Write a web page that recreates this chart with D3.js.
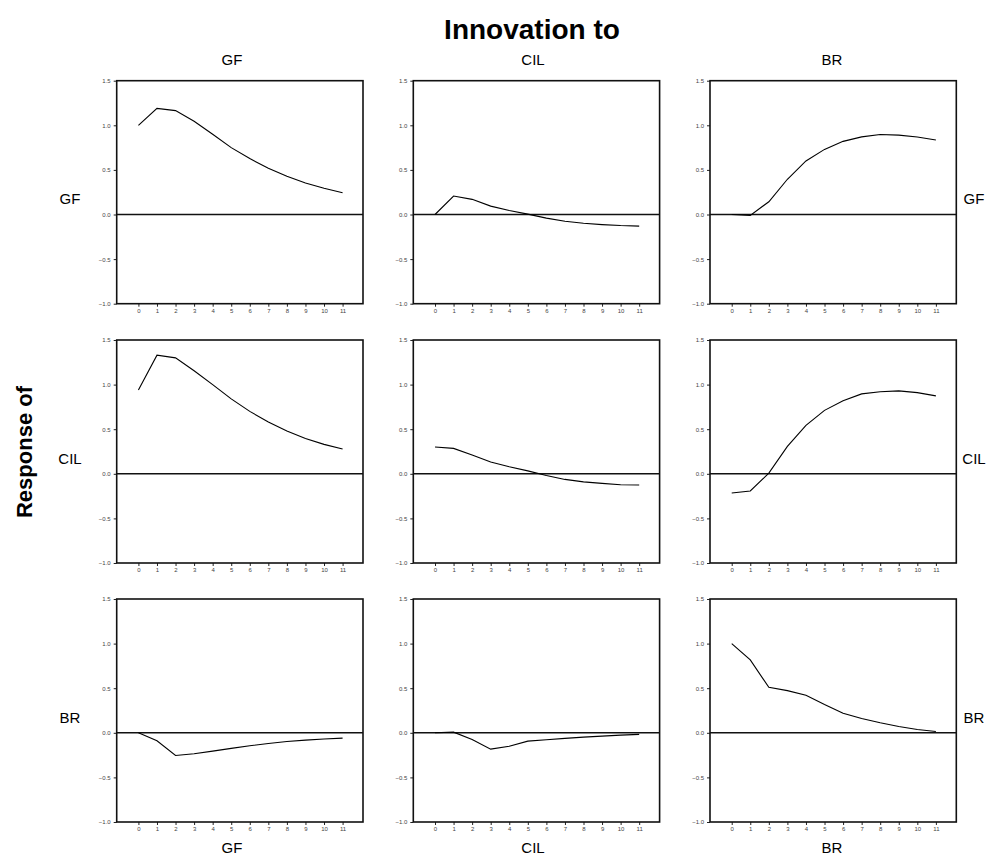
<!DOCTYPE html>
<html>
<head>
<meta charset="utf-8">
<script src="https://cdn.jsdelivr.net/npm/d3@7"></script>
<style>
  body { margin: 0; background: #fff; }
  text { font-family: "Liberation Sans", Arial, sans-serif; }
</style>
</head>
<body>
<svg id="chart" width="1000" height="865"></svg>
<script>
// Impulse responses: rows = responding variable, columns = shocked variable
const variables = ["GF", "CIL", "BR"];
const horizons = [0, 1, 2, 3, 4, 5, 6, 7, 8, 9, 10, 11];
const yTicks = [-1.0, -0.5, 0.0, 0.5, 1.0, 1.5];

const gfToGf   = [1.00, 1.19, 1.165, 1.045, 0.90, 0.75, 0.627, 0.519, 0.43, 0.354, 0.295, 0.243];
const gfToCil  = [0.00, 0.207, 0.17, 0.094, 0.045, 0.004, -0.041, -0.075, -0.098, -0.113, -0.124, -0.13];
const gfToBr   = [0.00, -0.01, 0.143, 0.395, 0.60, 0.73, 0.82, 0.87, 0.897, 0.89, 0.868, 0.835];
const cilToGf  = [0.94, 1.33, 1.30, 1.156, 1.00, 0.84, 0.70, 0.58, 0.48, 0.396, 0.33, 0.278];
const cilToCil = [0.30, 0.285, 0.21, 0.133, 0.08, 0.033, -0.019, -0.063, -0.09, -0.107, -0.122, -0.126];
const cilToBr  = [-0.215, -0.193, 0.007, 0.307, 0.544, 0.711, 0.82, 0.896, 0.92, 0.93, 0.91, 0.874];
const brToGf   = [0.00, -0.09, -0.254, -0.235, -0.205, -0.175, -0.145, -0.12, -0.097, -0.082, -0.07, -0.06];
const brToCil  = [0.00, 0.007, -0.075, -0.183, -0.15, -0.093, -0.078, -0.063, -0.049, -0.037, -0.026, -0.018];
const brToBr   = [1.00, 0.817, 0.51, 0.473, 0.42, 0.317, 0.22, 0.16, 0.112, 0.071, 0.037, 0.015];

const responses = [
  [gfToGf, gfToCil, gfToBr],
  [cilToGf, cilToCil, cilToBr],
  [brToGf, brToCil, brToBr]
];

// Layout of the 3x3 grid
const panelLeft = [116.7, 413.3, 710];
const panelTop = [80.7, 340, 599];
const panelW = 246.3, panelH = 223;
const colTitleX = [232, 533, 832];

const svg = d3.select("#chart");

const x = d3.scaleLinear().domain([-1.17, 12.1]).range([0, panelW]);
const y = d3.scaleLinear().domain([-1.0, 1.5]).range([panelH, 0]);
const line = d3.line().x((d, i) => x(horizons[i])).y(d => y(d));

responses.forEach((row, r) => {
  row.forEach((series, c) => {
    const g = svg.append("g")
      .attr("transform", `translate(${panelLeft[c]},${panelTop[r]})`);

    // y axis (left)
    const ya = g.append("g")
      .call(d3.axisLeft(y).tickValues(yTicks).tickFormat(d3.format(".1f")).tickSize(3).tickPadding(3));
    ya.select(".domain").remove();
    ya.selectAll(".tick line").attr("stroke", "#222");
    ya.selectAll(".tick text").attr("font-size", 6).attr("fill", "#444")
      .attr("font-family", "Liberation Sans, Arial, sans-serif");

    // x axis (bottom)
    const xa = g.append("g")
      .attr("transform", `translate(0,${panelH})`)
      .call(d3.axisBottom(x).tickValues(horizons).tickFormat(d3.format("d")).tickSize(3).tickPadding(2));
    xa.select(".domain").remove();
    xa.selectAll(".tick line").attr("stroke", "#222");
    xa.selectAll(".tick text").attr("font-size", 6).attr("fill", "#444")
      .attr("font-family", "Liberation Sans, Arial, sans-serif");

    // panel frame
    g.append("rect")
      .attr("x", 0).attr("y", 0)
      .attr("width", panelW).attr("height", panelH)
      .attr("fill", "none").attr("stroke", "#111").attr("stroke-width", 1.6);

    // zero reference line
    g.append("line")
      .attr("x1", 0).attr("x2", panelW)
      .attr("y1", y(0)).attr("y2", y(0))
      .attr("stroke", "#111").attr("stroke-width", 1.4);

    // response path
    g.append("path")
      .datum(series)
      .attr("d", line)
      .attr("fill", "none")
      .attr("stroke", "#000")
      .attr("stroke-width", 1.1);
  });
});

// Titles
svg.append("text")
  .attr("x", 532).attr("y", 39)
  .attr("text-anchor", "middle")
  .attr("font-size", 28).attr("font-weight", "bold")
  .text("Innovation to");

variables.forEach((v, c) => {
  svg.append("text")
    .attr("x", colTitleX[c]).attr("y", 65)
    .attr("text-anchor", "middle").attr("font-size", 15)
    .text(v);
  svg.append("text")
    .attr("x", colTitleX[c]).attr("y", 853)
    .attr("text-anchor", "middle").attr("font-size", 15)
    .text(v);
});

variables.forEach((v, r) => {
  const cy = panelTop[r] + panelH / 2 + 12;
  svg.append("text")
    .attr("x", 70).attr("y", cy)
    .attr("text-anchor", "middle").attr("font-size", 15)
    .text(v);
  svg.append("text")
    .attr("x", 974).attr("y", cy)
    .attr("text-anchor", "middle").attr("font-size", 15)
    .text(v);
});

svg.append("text")
  .attr("transform", "translate(32,452) rotate(-90)")
  .attr("text-anchor", "middle")
  .attr("font-size", 22).attr("font-weight", "bold")
  .text("Response of");
</script>
</body>
</html>
